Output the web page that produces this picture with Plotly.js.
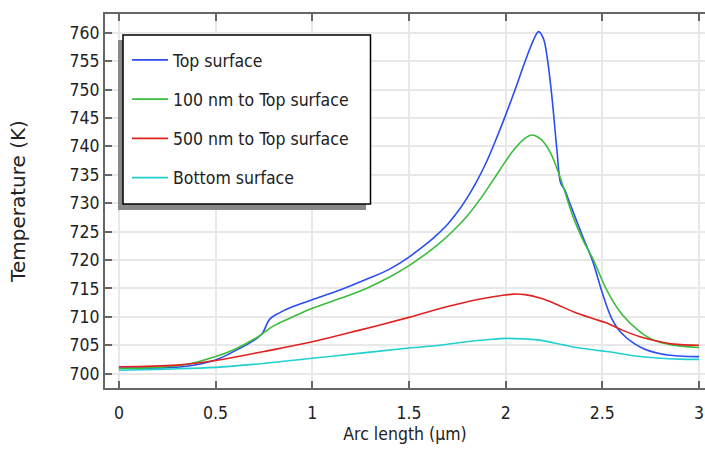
<!DOCTYPE html>
<html>
<head>
<meta charset="utf-8">
<script src="https://cdn.plot.ly/plotly-3.0.1.min.js"></script>
<style>html,body{margin:0;padding:0;background:#fff;}#chart{width:705px;height:450px;}</style>
</head>
<body>
<div id="chart"></div>
<script>
// Top surface
const topX = [0, 0.2, 0.35, 0.5, 0.6, 0.7, 0.74, 0.78, 0.83, 0.9, 1.0, 1.15, 1.28, 1.4, 1.5, 1.55, 1.6, 1.65, 1.7, 1.75, 1.8, 1.85, 1.9, 1.95, 2.0, 2.05, 2.1, 2.14, 2.17, 2.195, 2.215, 2.24, 2.265, 2.285, 2.305, 2.325, 2.36, 2.4, 2.45, 2.5, 2.55, 2.6, 2.7, 2.8, 2.9, 3.0];
const topY = [701.0, 701.0, 701.3, 702.4, 704.0, 705.9, 707.0, 709.6, 710.7, 711.8, 713.0, 714.8, 716.6, 718.4, 720.5, 721.8, 723.1, 724.6, 726.3, 728.4, 730.9, 733.8, 737.2, 741.2, 745.5, 750.1, 754.9, 758.4, 760.2, 759.0, 755.6, 748.5, 739.4, 733.5, 732.4, 730.6, 727.5, 724.0, 719.8, 714.2, 709.6, 707.1, 704.6, 703.5, 703.1, 703.0];
// 100 nm to Top surface
const n100X = [0, 0.2, 0.35, 0.5, 0.6, 0.72, 0.8, 0.9, 1.0, 1.15, 1.28, 1.4, 1.5, 1.6, 1.66, 1.73, 1.8, 1.87, 1.936, 2.0, 2.05, 2.1, 2.135, 2.18, 2.23, 2.28, 2.35, 2.4, 2.454, 2.523, 2.6, 2.7, 2.764, 2.85, 3.0];
const n100Y = [700.9, 701.1, 701.6, 703.0, 704.3, 706.5, 708.4, 710.0, 711.5, 713.3, 715.0, 717.0, 719.0, 721.4, 723.0, 725.2, 727.7, 730.8, 734.1, 737.4, 739.7, 741.4, 742.0, 741.3, 739.0, 734.7, 727.5, 723.5, 720.0, 714.7, 710.5, 707.2, 705.9, 705.1, 704.6];
// 500 nm to Top surface
const n500X = [0, 0.3, 0.5, 0.75, 1.0, 1.25, 1.5, 1.7, 1.85, 1.97, 2.04, 2.1, 2.178, 2.25, 2.35, 2.45, 2.523, 2.6, 2.695, 2.8, 2.868, 3.0];
const n500Y = [701.2, 701.5, 702.3, 703.9, 705.6, 707.7, 709.9, 711.8, 713.0, 713.7, 714.0, 713.9, 713.3, 712.4, 710.9, 709.7, 708.9, 707.7, 706.5, 705.6, 705.2, 705.0];
// Bottom surface
const botX = [0, 0.25, 0.5, 0.75, 1.0, 1.25, 1.5, 1.66, 1.8, 1.9, 2.006, 2.1, 2.178, 2.25, 2.35, 2.45, 2.523, 2.6, 2.695, 2.8, 2.9, 3.0];
const botY = [700.6, 700.8, 701.1, 701.8, 702.7, 703.6, 704.5, 705.0, 705.6, 705.95, 706.2, 706.1, 705.9, 705.4, 704.7, 704.2, 703.9, 703.5, 703.0, 702.7, 702.55, 702.5];

const names = ["Top surface", "100 nm to Top surface", "500 nm to Top surface", "Bottom surface"];
const colors = ["#2b4ef0", "#3cbc3c", "#e02222", "#22d0d0"];
const xTicks = [0, 0.5, 1, 1.5, 2, 2.5, 3];
const yTicks = [700, 705, 710, 715, 720, 725, 730, 735, 740, 745, 750, 755, 760];

const FONT = "DejaVu Sans Condensed, DejaVu Sans, sans-serif";
const FONT_WIDE = "DejaVu Sans, sans-serif";
const series = [[topX, topY], [n100X, n100Y], [n500X, n500Y], [botX, botY]];
const traces = series.map((s, i) => ({
  x: s[0], y: s[1], type: "scatter", mode: "lines", name: names[i],
  legendgroup: "g" + i,
  line: {color: colors[i], width: 1.6, shape: "spline", smoothing: 1.0}
}));

// pixel -> paper helpers for the legend frame (plot area: x 105..705, y 14..388)
const px = v => (v - 105) / 600;
const py = v => (388 - v) / 374;

const layout = {
  width: 705, height: 450,
  margin: {l: 105, r: 0, t: 14, b: 62},
  paper_bgcolor: "#fff", plot_bgcolor: "#fff",
  font: {family: FONT, size: 17, color: "#222"},
  showlegend: true,
  xaxis: {
    range: [-0.072, 3.031], tickvals: xTicks, ticktext: xTicks.map(String),
    showgrid: true, gridcolor: "#e8e8e8", gridwidth: 2, zeroline: false,
    showline: true, linecolor: "#666", linewidth: 2, mirror: "ticks",
    ticks: "inside", ticklen: 7, tickwidth: 2, tickcolor: "#666",
    ticklabelstandoff: 8,
    tickfont: {family: FONT, size: 17.5, color: "#222"},
    title: {text: "Arc length (µm)", font: {family: FONT, size: 17.5, color: "#222"}, standoff: 6}
  },
  yaxis: {
    range: [697.47, 763.3], tickvals: yTicks, ticktext: yTicks.map(String),
    showgrid: true, gridcolor: "#e8e8e8", gridwidth: 2, zeroline: false,
    showline: true, linecolor: "#666", linewidth: 2, mirror: false,
    ticks: "inside", ticklen: 7, tickwidth: 2, tickcolor: "#666",
    tickfont: {family: FONT, size: 17.5, color: "#222"},
    title: {text: "Temperature (K)", font: {family: FONT_WIDE, size: 20, color: "#222"}, standoff: 38}
  },
  legend: {
    x: px(127), y: py(42), xanchor: "left", yanchor: "top",
    bgcolor: "rgba(0,0,0,0)", borderwidth: 0,
    font: {family: FONT, size: 17.5, color: "#222"},
    itemwidth: 36,
    tracegroupgap: 13.5
  },
  shapes: [
    {type: "rect", xref: "paper", yref: "paper", x0: px(118), x1: px(366), y0: py(210), y1: py(40),
     fillcolor: "#888", line: {width: 0}, layer: "above"},
    {type: "rect", xref: "paper", yref: "paper", x0: px(123), x1: px(370.5), y0: py(204), y1: py(35),
     fillcolor: "#fff", line: {color: "#000", width: 1.5}, layer: "above"}
  ]
};

Plotly.newPlot("chart", traces, layout, {displayModeBar: false, staticPlot: true});
</script>
</body>
</html>
